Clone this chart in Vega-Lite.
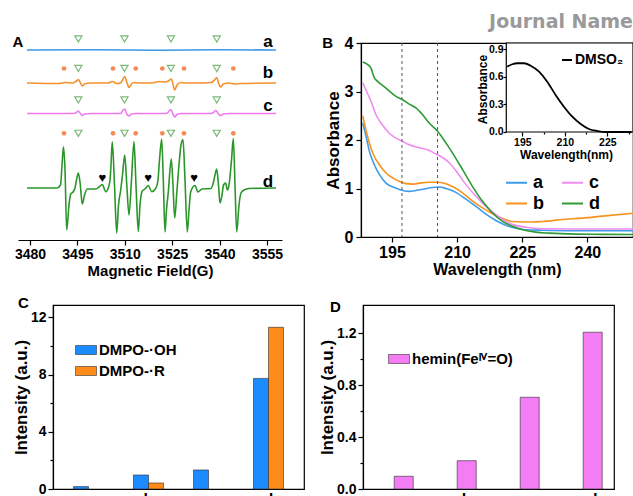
{
"$schema": "https://vega.github.io/schema/vega-lite/v6.json",
"padding": {"left": 11, "top": 12, "right": 0, "bottom": 0},
"background": "white",
"config": {
  "font": "Liberation Sans",
  "axis": {"labelFontWeight": "bold", "titleFontWeight": "bold", "labelColor": "black", "titleColor": "black", "domainColor": "black", "tickColor": "black", "grid": false, "labelFlush": false, "labelOverlap": false, "domainWidth": 1.2, "tickWidth": 1.2},
  "legend": {"labelFontWeight": "bold", "labelColor": "black"}
},
"spacing": 17,
"resolve": {"scale": {"color": "independent"}, "legend": {"color": "independent"}},
"datasets": {
  "epr": [
    {"s":"a","G":3479.05,"v":190},{"s":"a","G":3500,"v":190.3},{"s":"a","G":3520,"v":189.8},{"s":"a","G":3540,"v":190.2},{"s":"a","G":3557.85,"v":190},
    {"s":"b","G":3479.05,"v":157},{"s":"b","G":3489.18,"v":156.5},{"s":"b","G":3491.08,"v":157.5},{"s":"b","G":3493.61,"v":157},{"s":"b","G":3494.72,"v":159},{"s":"b","G":3495.28,"v":160.5},{"s":"b","G":3495.82,"v":158},{"s":"b","G":3496.55,"v":154},{"s":"b","G":3497.25,"v":156},{"s":"b","G":3499.3,"v":157},{"s":"b","G":3504.68,"v":157},{"s":"b","G":3506.04,"v":158.5},{"s":"b","G":3507.44,"v":156.5},{"s":"b","G":3508.7,"v":157},{"s":"b","G":3509.27,"v":160},{"s":"b","G":3509.97,"v":163.5},{"s":"b","G":3510.63,"v":158},{"s":"b","G":3511.33,"v":152.5},{"s":"b","G":3512.12,"v":156},{"s":"b","G":3512.91,"v":157.5},{"s":"b","G":3514.81,"v":157},{"s":"b","G":3518.51,"v":157},{"s":"b","G":3520.98,"v":158.5},{"s":"b","G":3522.72,"v":158},{"s":"b","G":3523.77,"v":159},{"s":"b","G":3524.71,"v":161},{"s":"b","G":3525.25,"v":156},{"s":"b","G":3525.79,"v":150},{"s":"b","G":3526.52,"v":155},{"s":"b","G":3527.79,"v":157.5},{"s":"b","G":3529.05,"v":157},{"s":"b","G":3533.16,"v":157},{"s":"b","G":3537.28,"v":157.5},{"s":"b","G":3538.54,"v":160.5},{"s":"b","G":3539.08,"v":162.5},{"s":"b","G":3539.65,"v":157},{"s":"b","G":3540.28,"v":153},{"s":"b","G":3541.24,"v":156},{"s":"b","G":3542.98,"v":157},{"s":"b","G":3544.88,"v":156},{"s":"b","G":3546.77,"v":156.5},{"s":"b","G":3557.85,"v":157},
    {"s":"c","G":3479.05,"v":126.5},{"s":"c","G":3493.61,"v":126.5},{"s":"c","G":3494.72,"v":127.5},{"s":"c","G":3495.28,"v":129},{"s":"c","G":3495.82,"v":127},{"s":"c","G":3496.55,"v":124.5},{"s":"c","G":3497.25,"v":126},{"s":"c","G":3499.3,"v":126.5},{"s":"c","G":3508.7,"v":126.5},{"s":"c","G":3509.27,"v":129},{"s":"c","G":3509.97,"v":131},{"s":"c","G":3510.63,"v":126},{"s":"c","G":3511.33,"v":124},{"s":"c","G":3512.12,"v":126},{"s":"c","G":3513.54,"v":126.5},{"s":"c","G":3523.19,"v":126.5},{"s":"c","G":3523.77,"v":128},{"s":"c","G":3524.53,"v":130.5},{"s":"c","G":3525.25,"v":126},{"s":"c","G":3525.79,"v":123},{"s":"c","G":3526.52,"v":125.5},{"s":"c","G":3527.79,"v":126.5},{"s":"c","G":3537.28,"v":126.5},{"s":"c","G":3538.07,"v":127.5},{"s":"c","G":3538.77,"v":129.5},{"s":"c","G":3539.65,"v":126},{"s":"c","G":3540.13,"v":124.5},{"s":"c","G":3541.24,"v":126},{"s":"c","G":3542.98,"v":126.5},{"s":"c","G":3557.85,"v":126.5},
    {"s":"d","G":3479.05,"v":52},{"s":"d","G":3488.54,"v":52},{"s":"d","G":3489.65,"v":55},{"s":"d","G":3490.13,"v":75},{"s":"d","G":3490.6,"v":93.3},{"s":"d","G":3491.08,"v":70},{"s":"d","G":3491.61,"v":10},{"s":"d","G":3492.34,"v":35},{"s":"d","G":3492.88,"v":46},{"s":"d","G":3493.61,"v":48},{"s":"d","G":3494.24,"v":52},{"s":"d","G":3494.72,"v":60},{"s":"d","G":3495.28,"v":67},{"s":"d","G":3495.82,"v":58},{"s":"d","G":3496.55,"v":36},{"s":"d","G":3497.25,"v":45},{"s":"d","G":3498.13,"v":51},{"s":"d","G":3500.89,"v":51},{"s":"d","G":3501.84,"v":53},{"s":"d","G":3502.88,"v":55.5},{"s":"d","G":3503.96,"v":48.3},{"s":"d","G":3504.68,"v":51},{"s":"d","G":3505.32,"v":60},{"s":"d","G":3505.63,"v":75},{"s":"d","G":3506.04,"v":98.3},{"s":"d","G":3506.74,"v":55},{"s":"d","G":3507.44,"v":7},{"s":"d","G":3508.01,"v":35},{"s":"d","G":3508.7,"v":50},{"s":"d","G":3509.27,"v":65},{"s":"d","G":3509.97,"v":85},{"s":"d","G":3510.63,"v":55},{"s":"d","G":3511.33,"v":25},{"s":"d","G":3512.12,"v":60},{"s":"d","G":3512.91,"v":98.5},{"s":"d","G":3513.54,"v":55},{"s":"d","G":3514.27,"v":8.3},{"s":"d","G":3514.81,"v":35},{"s":"d","G":3515.54,"v":49},{"s":"d","G":3516.39,"v":51},{"s":"d","G":3517.44,"v":54.5},{"s":"d","G":3518.51,"v":48.3},{"s":"d","G":3519.78,"v":51.5},{"s":"d","G":3520.5,"v":60},{"s":"d","G":3520.98,"v":80},{"s":"d","G":3521.68,"v":101},{"s":"d","G":3522.18,"v":60},{"s":"d","G":3522.72,"v":8},{"s":"d","G":3523.19,"v":30},{"s":"d","G":3523.77,"v":48},{"s":"d","G":3524.71,"v":81},{"s":"d","G":3525.25,"v":55},{"s":"d","G":3525.79,"v":22},{"s":"d","G":3526.52,"v":50},{"s":"d","G":3527.15,"v":75},{"s":"d","G":3527.79,"v":95},{"s":"d","G":3528.42,"v":100.5},{"s":"d","G":3529.05,"v":60},{"s":"d","G":3529.78,"v":8},{"s":"d","G":3530.32,"v":30},{"s":"d","G":3530.85,"v":48},{"s":"d","G":3532.22,"v":54.5},{"s":"d","G":3533.16,"v":48},{"s":"d","G":3534.43,"v":51},{"s":"d","G":3537.28,"v":51.5},{"s":"d","G":3538.07,"v":58},{"s":"d","G":3538.54,"v":65},{"s":"d","G":3539.08,"v":71},{"s":"d","G":3539.65,"v":55},{"s":"d","G":3540.13,"v":37},{"s":"d","G":3540.76,"v":45},{"s":"d","G":3541.24,"v":55},{"s":"d","G":3541.93,"v":57},{"s":"d","G":3542.44,"v":50},{"s":"d","G":3542.98,"v":55},{"s":"d","G":3543.77,"v":80},{"s":"d","G":3544.34,"v":101.5},{"s":"d","G":3544.88,"v":55},{"s":"d","G":3545.41,"v":8},{"s":"d","G":3546.14,"v":35},{"s":"d","G":3546.77,"v":47},{"s":"d","G":3547.72,"v":50},{"s":"d","G":3549.3,"v":51.5},{"s":"d","G":3557.85,"v":52}
  ],
  "tri": [
    {"G":3495.3,"v":201},{"G":3509.9,"v":201},{"G":3524.6,"v":201},{"G":3539.1,"v":201},
    {"G":3495.3,"v":171.5},{"G":3509.9,"v":171.5},{"G":3524.6,"v":171.5},{"G":3539.1,"v":171.5},
    {"G":3495.3,"v":140},{"G":3509.9,"v":140},{"G":3524.6,"v":140},{"G":3539.1,"v":140},
    {"G":3495.3,"v":106.7},{"G":3509.9,"v":106.7},{"G":3524.6,"v":106.7},{"G":3539.1,"v":106.7}
  ],
  "dot": [
    {"G":3490.76,"v":171.5},{"G":3506.27,"v":171.5},{"G":3513.45,"v":171.5},{"G":3521.87,"v":171.5},{"G":3528.73,"v":171.5},{"G":3544.34,"v":171.5},
    {"G":3490.76,"v":106.7},{"G":3506.27,"v":106.7},{"G":3513.45,"v":106.7},{"G":3521.87,"v":106.7},{"G":3528.73,"v":106.7},{"G":3544.34,"v":106.7}
  ],
  "heart": [{"G":3502.9,"v":62.5},{"G":3517.4,"v":62.5},{"G":3531.9,"v":62.5}],
  "elab": [{"s":"a","G":3555.3,"v":198},{"s":"b","G":3555.3,"v":167},{"s":"c","G":3555.3,"v":134},{"s":"d","G":3555.3,"v":58}],
  "uv": [
    {"s":"a","wl":188.25,"abs":2.35},{"s":"a","wl":189.02,"abs":2.08},{"s":"a","wl":189.79,"abs":1.77},{"s":"a","wl":190.94,"abs":1.49},{"s":"a","wl":192.09,"abs":1.29},{"s":"a","wl":193.62,"abs":1.11},{"s":"a","wl":195.54,"abs":1.02},{"s":"a","wl":197.45,"abs":0.96},{"s":"a","wl":198.99,"abs":0.94},{"s":"a","wl":200.52,"abs":0.96},{"s":"a","wl":202.44,"abs":0.99},{"s":"a","wl":204.36,"abs":1.02},{"s":"a","wl":205.89,"abs":1.03},{"s":"a","wl":207.42,"abs":1.0},{"s":"a","wl":209.72,"abs":0.92},{"s":"a","wl":212.03,"abs":0.78},{"s":"a","wl":214.33,"abs":0.63},{"s":"a","wl":216.63,"abs":0.47},{"s":"a","wl":218.93,"abs":0.34},{"s":"a","wl":221.23,"abs":0.24},{"s":"a","wl":223.53,"abs":0.18},{"s":"a","wl":225.83,"abs":0.15},{"s":"a","wl":229.67,"abs":0.14},{"s":"a","wl":237.33,"abs":0.13},{"s":"a","wl":250.5,"abs":0.13},
    {"s":"b","wl":188.25,"abs":2.5},{"s":"b","wl":189.02,"abs":2.21},{"s":"b","wl":189.79,"abs":1.94},{"s":"b","wl":190.94,"abs":1.66},{"s":"b","wl":192.09,"abs":1.49},{"s":"b","wl":193.62,"abs":1.32},{"s":"b","wl":195.15,"abs":1.22},{"s":"b","wl":196.69,"abs":1.15},{"s":"b","wl":198.22,"abs":1.1},{"s":"b","wl":199.75,"abs":1.09},{"s":"b","wl":201.29,"abs":1.11},{"s":"b","wl":203.59,"abs":1.13},{"s":"b","wl":205.51,"abs":1.13},{"s":"b","wl":207.04,"abs":1.11},{"s":"b","wl":208.96,"abs":1.04},{"s":"b","wl":211.26,"abs":0.91},{"s":"b","wl":213.56,"abs":0.74},{"s":"b","wl":215.86,"abs":0.6},{"s":"b","wl":218.16,"abs":0.48},{"s":"b","wl":220.46,"abs":0.38},{"s":"b","wl":222.76,"abs":0.32},{"s":"b","wl":225.06,"abs":0.31},{"s":"b","wl":227.36,"abs":0.31},{"s":"b","wl":229.67,"abs":0.32},{"s":"b","wl":234.27,"abs":0.36},{"s":"b","wl":238.87,"abs":0.39},{"s":"b","wl":243.47,"abs":0.43},{"s":"b","wl":250.5,"abs":0.49},
    {"s":"c","wl":188.25,"abs":3.18},{"s":"c","wl":189.17,"abs":3.0},{"s":"c","wl":190.17,"abs":2.8},{"s":"c","wl":191.32,"abs":2.52},{"s":"c","wl":192.47,"abs":2.35},{"s":"c","wl":194.39,"abs":2.14},{"s":"c","wl":195.92,"abs":2.04},{"s":"c","wl":197.45,"abs":1.97},{"s":"c","wl":198.99,"abs":1.9},{"s":"c","wl":201.29,"abs":1.84},{"s":"c","wl":203.21,"abs":1.8},{"s":"c","wl":204.74,"abs":1.73},{"s":"c","wl":206.27,"abs":1.66},{"s":"c","wl":208.19,"abs":1.53},{"s":"c","wl":210.11,"abs":1.32},{"s":"c","wl":212.03,"abs":1.08},{"s":"c","wl":214.33,"abs":0.84},{"s":"c","wl":216.63,"abs":0.63},{"s":"c","wl":218.93,"abs":0.46},{"s":"c","wl":221.23,"abs":0.32},{"s":"c","wl":223.53,"abs":0.24},{"s":"c","wl":225.83,"abs":0.2},{"s":"c","wl":229.67,"abs":0.17},{"s":"c","wl":237.33,"abs":0.165},{"s":"c","wl":250.5,"abs":0.165},
    {"s":"d","wl":188.25,"abs":3.61},{"s":"d","wl":189.17,"abs":3.57},{"s":"d","wl":190.17,"abs":3.48},{"s":"d","wl":190.94,"abs":3.28},{"s":"d","wl":191.7,"abs":3.21},{"s":"d","wl":193.62,"abs":3.07},{"s":"d","wl":195.92,"abs":2.9},{"s":"d","wl":197.45,"abs":2.83},{"s":"d","wl":198.99,"abs":2.74},{"s":"d","wl":200.52,"abs":2.66},{"s":"d","wl":202.06,"abs":2.52},{"s":"d","wl":203.59,"abs":2.35},{"s":"d","wl":205.51,"abs":2.18},{"s":"d","wl":207.42,"abs":1.94},{"s":"d","wl":208.96,"abs":1.73},{"s":"d","wl":211.26,"abs":1.39},{"s":"d","wl":213.56,"abs":1.04},{"s":"d","wl":215.86,"abs":0.735},{"s":"d","wl":218.16,"abs":0.495},{"s":"d","wl":220.46,"abs":0.323},{"s":"d","wl":222.76,"abs":0.22},{"s":"d","wl":225.06,"abs":0.15},{"s":"d","wl":228.13,"abs":0.1},{"s":"d","wl":231.2,"abs":0.08},{"s":"d","wl":237.33,"abs":0.06},{"s":"d","wl":243.47,"abs":0.055},{"s":"d","wl":250.5,"abs":0.05}
  ],
  "dmso": [
    {"name":"DMSO₂","wl":189.7,"abs":0.71},{"name":"DMSO₂","wl":191.47,"abs":0.736},{"name":"DMSO₂","wl":193.24,"abs":0.747},{"name":"DMSO₂","wl":195.6,"abs":0.747},{"name":"DMSO₂","wl":197.96,"abs":0.72},{"name":"DMSO₂","wl":200.9,"abs":0.655},{"name":"DMSO₂","wl":203.8,"abs":0.547},{"name":"DMSO₂","wl":206.8,"abs":0.4},{"name":"DMSO₂","wl":209.7,"abs":0.275},{"name":"DMSO₂","wl":212.65,"abs":0.166},{"name":"DMSO₂","wl":215.6,"abs":0.087},{"name":"DMSO₂","wl":218.5,"abs":0.033},{"name":"DMSO₂","wl":221.5,"abs":0.011},{"name":"DMSO₂","wl":224.4,"abs":0.0},{"name":"DMSO₂","wl":233.6,"abs":0.0}
  ]
},
"vconcat": [
{
"hconcat": [
  {
    "width": 264, "height": 197,
    "view": {"stroke": null},
    "layer": [
      {
        "data": {"name": "epr"},
        "mark": {"type": "line", "strokeWidth": 1.6, "interpolate": "monotone"},
        "encoding": {
          "x": {"field": "G", "type": "quantitative", "scale": {"domain": [3476.2, 3559.75], "nice": false, "zero": false},
                "axis": {"title": "Magnetic Field(G)", "values": [3480, 3487.5, 3495, 3502.5, 3510, 3517.5, 3525, 3532.5, 3540, 3547.5, 3555], "format": "d", "labelExpr": "datum.value % 15 === 0 ? datum.label : ''", "tickSize": {"condition": {"test": "datum.value % 15 === 0", "value": 5}, "value": 3}, "labelFontSize": 14, "titleFontSize": 15, "labelPadding": 2, "titlePadding": 2}},
          "y": {"field": "v", "type": "quantitative", "scale": {"domain": [0, 197], "nice": false, "zero": false}, "axis": null},
          "color": {"field": "s", "type": "nominal", "scale": {"domain": ["a", "b", "c", "d"], "range": ["#3a98e6", "#f5902c", "#ee7aee", "#2a962a"]}, "legend": null}
        }
      },
      {
        "data": {"name": "tri"},
        "mark": {"type": "point", "shape": "triangle-down", "filled": false, "stroke": "#3f9b3f", "strokeWidth": 1.2, "size": 50},
        "encoding": {"x": {"field": "G", "type": "quantitative"}, "y": {"field": "v", "type": "quantitative"}}
      },
      {
        "data": {"name": "dot"},
        "mark": {"type": "circle", "color": "#f58a52", "size": 22, "opacity": 1},
        "encoding": {"x": {"field": "G", "type": "quantitative"}, "y": {"field": "v", "type": "quantitative"}}
      },
      {
        "data": {"name": "heart"},
        "mark": {"type": "text", "text": "♥", "fontSize": 13, "color": "black", "baseline": "middle", "align": "center"},
        "encoding": {"x": {"field": "G", "type": "quantitative"}, "y": {"field": "v", "type": "quantitative"}}
      },
      {
        "data": {"name": "elab"},
        "mark": {"type": "text", "fontSize": 17, "fontWeight": "bold", "color": "black", "baseline": "middle", "align": "center"},
        "encoding": {"x": {"field": "G", "type": "quantitative"}, "y": {"field": "v", "type": "quantitative"}, "text": {"field": "s"}}
      },
      {
        "data": {"values": [{"t": "A"}]},
        "mark": {"type": "text", "fontSize": 15, "fontWeight": "bold", "color": "black", "baseline": "middle", "align": "center"},
        "encoding": {"x": {"datum": 3476.2, "type": "quantitative"}, "y": {"datum": 198, "type": "quantitative"}, "text": {"field": "t"}}
      }
    ]
  },
  {
    "width": 272, "height": 194,
    "view": {"stroke": "black", "strokeWidth": 1.2},
    "layer": [
      {
        "layer": [
          {
            "data": {"name": "uv"},
            "mark": {"type": "line", "strokeWidth": 1.6, "interpolate": "monotone", "clip": true},
            "encoding": {
              "x": {"field": "wl", "type": "quantitative", "scale": {"domain": [187.87, 250.5], "nice": false, "zero": false},
                    "axis": {"title": "Wavelength (nm)", "values": [195, 202.5, 210, 217.5, 225, 232.5, 240, 247.5], "labelExpr": "datum.value % 15 === 0 ? datum.label : ''", "tickSize": {"condition": {"test": "datum.value % 15 === 0", "value": 5}, "value": 3}, "labelFontSize": 16, "titleFontSize": 16, "labelPadding": 2, "titlePadding": 1}},
              "y": {"field": "abs", "type": "quantitative", "scale": {"domain": [0, 4], "nice": false, "zero": false},
                    "axis": {"title": "Absorbance", "values": [0, 0.5, 1, 1.5, 2, 2.5, 3, 3.5, 4], "labelExpr": "datum.value % 1 === 0 ? datum.label : ''", "tickSize": {"condition": {"test": "datum.value % 1 === 0", "value": 5}, "value": 3}, "labelFontSize": 16, "titleFontSize": 17, "labelPadding": 3, "titlePadding": 2}},
              "color": {"field": "s", "type": "nominal", "scale": {"domain": ["a", "b", "c", "d"], "range": ["#3d9be9", "#f7931e", "#f08cf0", "#2e9a36"]},
                        "legend": {"orient": "none", "legendX": 144, "legendY": 128, "columns": 2, "title": null, "symbolType": "stroke", "symbolSize": 441, "symbolStrokeWidth": 2, "labelFontSize": 18, "labelOffset": 5, "columnPadding": 14, "rowPadding": 0}}
            }
          },
          {
            "data": {"values": [{"wl": 197.3}, {"wl": 205.5}]},
            "mark": {"type": "rule", "strokeDash": [3, 3], "color": "#555555", "strokeWidth": 1},
            "encoding": {"x": {"field": "wl", "type": "quantitative"}}
          },
          {
            "data": {"values": [{"t": "B"}]},
            "mark": {"type": "text", "fontSize": 15, "fontWeight": "bold", "color": "black", "align": "center", "baseline": "middle"},
            "encoding": {"x": {"datum": 180.2, "type": "quantitative"}, "y": {"datum": 4.0, "type": "quantitative"}, "text": {"field": "t"}}
          },
          {
            "data": {"values": [{"t": "Journal Name"}]},
            "mark": {"type": "text", "font": "DejaVu Sans", "fontSize": 19, "fontWeight": "bold", "color": "#9a9a9a", "align": "right", "baseline": "middle"},
            "encoding": {"x": {"datum": 250.5, "type": "quantitative"}, "y": {"datum": 4.433, "type": "quantitative"}, "text": {"field": "t"}}
          }
        ]
      },
      {
        "layer": [
          {
            "data": {"values": [{"t": "frame"}]},
            "mark": {"type": "rect", "fill": "white", "stroke": "black", "strokeWidth": 1.2},
            "encoding": {"x": {"datum": 189.35, "type": "quantitative"}, "x2": {"datum": 234.07}, "y": {"datum": 0, "type": "quantitative"}, "y2": {"datum": 0.967}}
          },
          {
            "data": {"name": "dmso"},
            "mark": {"type": "line", "strokeWidth": 1.8, "interpolate": "monotone"},
            "encoding": {
              "x": {"field": "wl", "type": "quantitative", "scale": {"domain": [138.07, 234.07], "nice": false, "zero": false},
                    "axis": {"orient": "bottom", "offset": -105, "domain": false, "title": "Wavelength(nm)", "values": [195, 202.5, 210, 217.5, 225, 232.5], "labelExpr": "datum.value % 15 === 0 ? datum.label : ''", "tickSize": {"condition": {"test": "datum.value % 15 === 0", "value": 4}, "value": 2}, "labelFontSize": 10.5, "titleFontSize": 12, "labelPadding": 1, "titleX": 205, "titleY": 22, "titleBaseline": "middle"}},
              "y": {"field": "abs", "type": "quantitative", "scale": {"domain": [-1.141, 0.967], "nice": false, "zero": false},
                    "axis": {"orient": "left", "offset": -145, "domain": false, "title": "Absorbance", "values": [0, 0.3, 0.6, 0.9], "format": ".1f", "tickSize": 3, "labelFontSize": 10.5, "titleFontSize": 12, "labelPadding": 0, "titleX": -24, "titleY": 46, "titleBaseline": "middle", "titleAngle": 270}},
              "color": {"field": "name", "type": "nominal", "scale": {"range": ["black"]},
                        "legend": {"orient": "none", "legendX": 199, "legendY": 10, "title": null, "symbolType": "stroke", "symbolSize": 100, "symbolStrokeWidth": 2, "labelFontSize": 14, "labelOffset": 1}}
            }
          }
        ]
      }
    ],
    "resolve": {"scale": {"x": "independent", "y": "independent", "color": "independent"}, "axis": {"x": "independent", "y": "independent"}, "legend": {"color": "independent"}}
  }
],
"spacing": 79,
"bounds": "flush",
"resolve": {"scale": {"color": "independent"}, "legend": {"color": "independent"}}
},
{
"hconcat": [
  {"width": 35, "height": 184, "view": {"stroke": null}, "data": {"values": []}, "mark": "point"},
  {
    "width": 251, "height": 184,
    "view": {"stroke": "black", "strokeWidth": 1.2},
    "title": {"text": "C", "anchor": "start", "frame": "group", "dx": -35, "offset": -13, "baseline": "middle", "fontSize": 15, "fontWeight": "bold", "color": "black"},
    "data": {"values": [
      {"sample": "a", "type": "DMPO-·OH", "value": 0.17},
      {"sample": "b", "type": "DMPO-·OH", "value": 0.98},
      {"sample": "b", "type": "DMPO-·R", "value": 0.42},
      {"sample": "c", "type": "DMPO-·OH", "value": 1.33},
      {"sample": "d", "type": "DMPO-·OH", "value": 7.73},
      {"sample": "d", "type": "DMPO-·R", "value": 11.3}
    ]},
    "mark": {"type": "bar", "stroke": "#2a2a2a", "strokeWidth": 0.6},
    "encoding": {
      "x": {"field": "sample", "type": "nominal", "scale": {"domain": ["a", "b", "c", "d"], "paddingInner": 0.5, "paddingOuter": 0.342}, "axis": {"title": null, "labelAngle": 0, "ticks": false, "labelFontSize": 16, "labelPadding": 2}},
      "xOffset": {"field": "type", "scale": {"domain": ["DMPO-·OH", "DMPO-·R"], "paddingInner": 0, "paddingOuter": 0}},
      "y": {"field": "value", "type": "quantitative", "scale": {"domain": [0, 12.86], "nice": false},
            "axis": {"title": "Intensity (a.u.)", "values": [0, 2, 4, 6, 8, 10, 12], "labelExpr": "datum.value % 4 === 0 ? datum.label : ''", "tickSize": {"condition": {"test": "datum.value % 4 === 0", "value": 5}, "value": 3}, "labelFontSize": 14, "titleFontSize": 17, "labelPadding": 2, "titlePadding": 0}},
      "color": {"field": "type", "type": "nominal", "scale": {"domain": ["DMPO-·OH", "DMPO-·R"], "range": ["#1a8cff", "#ff8c1a"]},
                "legend": {"orient": "none", "legendX": 22, "legendY": 34, "title": null, "symbolType": "M-1,-0.43H1V0.43H-1Z", "symbolSize": 441, "symbolStrokeColor": "#333333", "symbolStrokeWidth": 0.6, "labelFontSize": 15, "labelOffset": 2, "rowPadding": 2}}
    }
  },
  {"width": 59, "height": 184, "view": {"stroke": null}, "data": {"values": []}, "mark": "point"},
  {
    "width": 251, "height": 184,
    "view": {"stroke": "black", "strokeWidth": 1.2},
    "title": {"text": "D", "anchor": "start", "frame": "group", "dx": -33, "offset": -17, "baseline": "middle", "fontSize": 15, "fontWeight": "bold", "color": "black"},
    "data": {"values": [
      {"sample": "a", "type": "hemin(Feᴵⱽ=O)", "value": 0.098},
      {"sample": "b", "type": "hemin(Feᴵⱽ=O)", "value": 0.218},
      {"sample": "c", "type": "hemin(Feᴵⱽ=O)", "value": 0.707},
      {"sample": "d", "type": "hemin(Feᴵⱽ=O)", "value": 1.208}
    ]},
    "mark": {"type": "bar", "stroke": "#2a2a2a", "strokeWidth": 0.6},
    "encoding": {
      "x": {"field": "sample", "type": "nominal", "scale": {"domain": ["a", "b", "c", "d"], "paddingInner": 0.698, "paddingOuter": 0.341, "align": 0.726}, "axis": {"title": null, "labelAngle": 0, "ticks": false, "labelFontSize": 16, "labelPadding": 2}},
      "y": {"field": "value", "type": "quantitative", "scale": {"domain": [0, 1.418], "nice": false},
            "axis": {"title": "Intensity (a.u.)", "values": [0, 0.2, 0.4, 0.6, 0.8, 1.0, 1.2], "format": ".1f", "labelExpr": "indexof([0, 0.4, 0.8, 1.2], datum.value) >= 0 ? datum.label : ''", "tickSize": {"condition": {"test": "indexof([0, 0.4, 0.8, 1.2], datum.value) >= 0", "value": 5}, "value": 3}, "labelFontSize": 14, "titleFontSize": 17, "labelPadding": 2, "titlePadding": 0}},
      "color": {"field": "type", "type": "nominal", "scale": {"domain": ["hemin(Feᴵⱽ=O)"], "range": ["#f47cf4"]},
                "legend": {"orient": "none", "legendX": 25, "legendY": 43, "title": null, "symbolType": "M-1,-0.43H1V0.43H-1Z", "symbolSize": 441, "symbolStrokeColor": "#333333", "symbolStrokeWidth": 0.6, "labelFontSize": 15, "labelOffset": 2}}
    }
  }
]
,
"spacing": 0,
"bounds": "flush",
"resolve": {"scale": {"color": "independent"}, "legend": {"color": "independent"}}
}
]
}
